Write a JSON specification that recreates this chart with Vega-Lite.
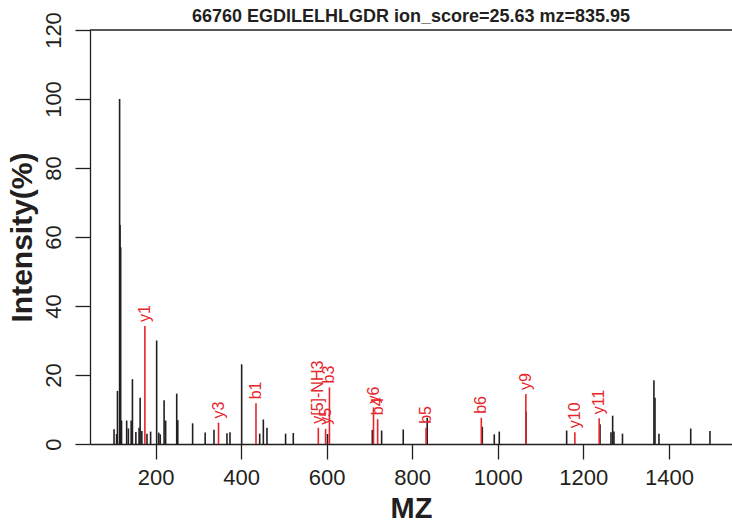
{
  "$schema": "https://vega.github.io/schema/vega-lite/v6.json",
  "autosize": {"type": "none"},
  "padding": {"left": 90, "top": 30, "right": 0, "bottom": 85},
  "width": 642,
  "height": 414,
  "background": "white",
  "title": {"text": "66760 EGDILELHLGDR ion_score=25.63 mz=835.95", "fontSize": 18, "fontWeight": "bold", "font": "Liberation Sans", "color": "#231f20", "offset": 6, "dy": 20, "anchor": "middle"},
  "config": {
    "view": {"stroke": null},
    "axis": {"grid": false, "domainColor": "#231f20", "tickColor": "#231f20", "labelColor": "#231f20", "titleColor": "#231f20", "labelFont": "Liberation Sans", "titleFont": "Liberation Sans", "domainWidth": 1.3, "tickWidth": 1.3}
  },
  "datasets": {
    "peaks": [
      {"mz": 103, "intensity": 4.3, "type": "other", "label": ""},
      {"mz": 109, "intensity": 2.9, "type": "other", "label": ""},
      {"mz": 111, "intensity": 15.4, "type": "other", "label": ""},
      {"mz": 116, "intensity": 100, "type": "other", "label": ""},
      {"mz": 117, "intensity": 63.5, "type": "other", "label": ""},
      {"mz": 118.5, "intensity": 57, "type": "other", "label": ""},
      {"mz": 120.5, "intensity": 6.8, "type": "other", "label": ""},
      {"mz": 132.5, "intensity": 6.8, "type": "other", "label": ""},
      {"mz": 136.5, "intensity": 4.5, "type": "other", "label": ""},
      {"mz": 143, "intensity": 6.8, "type": "other", "label": ""},
      {"mz": 146, "intensity": 18.8, "type": "other", "label": ""},
      {"mz": 154, "intensity": 3.5, "type": "other", "label": ""},
      {"mz": 161.5, "intensity": 4.7, "type": "other", "label": ""},
      {"mz": 164, "intensity": 13.4, "type": "other", "label": ""},
      {"mz": 168, "intensity": 3.8, "type": "other", "label": ""},
      {"mz": 180, "intensity": 3, "type": "other", "label": ""},
      {"mz": 188.5, "intensity": 3.6, "type": "other", "label": ""},
      {"mz": 202.6, "intensity": 30, "type": "other", "label": ""},
      {"mz": 207.5, "intensity": 3.3, "type": "other", "label": ""},
      {"mz": 211, "intensity": 2.8, "type": "other", "label": ""},
      {"mz": 220, "intensity": 12.7, "type": "other", "label": ""},
      {"mz": 223.6, "intensity": 6.8, "type": "other", "label": ""},
      {"mz": 249.5, "intensity": 14.6, "type": "other", "label": ""},
      {"mz": 252, "intensity": 6.9, "type": "other", "label": ""},
      {"mz": 286.7, "intensity": 6, "type": "other", "label": ""},
      {"mz": 316, "intensity": 3.3, "type": "other", "label": ""},
      {"mz": 336.6, "intensity": 4.1, "type": "other", "label": ""},
      {"mz": 367, "intensity": 3.1, "type": "other", "label": ""},
      {"mz": 374, "intensity": 3.4, "type": "other", "label": ""},
      {"mz": 401.3, "intensity": 23.1, "type": "other", "label": ""},
      {"mz": 443.5, "intensity": 3, "type": "other", "label": ""},
      {"mz": 452, "intensity": 7.1, "type": "other", "label": ""},
      {"mz": 460.5, "intensity": 4.7, "type": "other", "label": ""},
      {"mz": 504, "intensity": 3, "type": "other", "label": ""},
      {"mz": 522, "intensity": 3.2, "type": "other", "label": ""},
      {"mz": 602, "intensity": 2.9, "type": "other", "label": ""},
      {"mz": 706.7, "intensity": 4.1, "type": "other", "label": ""},
      {"mz": 728.5, "intensity": 3.9, "type": "other", "label": ""},
      {"mz": 779, "intensity": 4.2, "type": "other", "label": ""},
      {"mz": 835, "intensity": 7.6, "type": "other", "label": ""},
      {"mz": 963.8, "intensity": 5, "type": "other", "label": ""},
      {"mz": 991.8, "intensity": 2.8, "type": "other", "label": ""},
      {"mz": 1003.5, "intensity": 3.6, "type": "other", "label": ""},
      {"mz": 1066, "intensity": 9.4, "type": "other", "label": ""},
      {"mz": 1161, "intensity": 3.9, "type": "other", "label": ""},
      {"mz": 1239, "intensity": 5.7, "type": "other", "label": ""},
      {"mz": 1264.6, "intensity": 3.4, "type": "other", "label": ""},
      {"mz": 1268.5, "intensity": 8.2, "type": "other", "label": ""},
      {"mz": 1271.6, "intensity": 3.6, "type": "other", "label": ""},
      {"mz": 1291.5, "intensity": 3, "type": "other", "label": ""},
      {"mz": 1365, "intensity": 18.5, "type": "other", "label": ""},
      {"mz": 1367.5, "intensity": 13.4, "type": "other", "label": ""},
      {"mz": 1376.8, "intensity": 3, "type": "other", "label": ""},
      {"mz": 1451, "intensity": 4.5, "type": "other", "label": ""},
      {"mz": 1496, "intensity": 3.8, "type": "other", "label": ""},
      {"mz": 175.1, "intensity": 34.2, "type": "matched", "label": "y1"},
      {"mz": 347.2, "intensity": 6.2, "type": "matched", "label": "y3"},
      {"mz": 434.8, "intensity": 11.8, "type": "matched", "label": "b1"},
      {"mz": 580.5, "intensity": 4.7, "type": "matched", "label": "y[5]-NH3"},
      {"mz": 597.5, "intensity": 4.4, "type": "matched", "label": "y5"},
      {"mz": 606.5, "intensity": 16.4, "type": "matched", "label": "b3"},
      {"mz": 709.5, "intensity": 10.6, "type": "matched", "label": "y6"},
      {"mz": 719.2, "intensity": 7.2, "type": "matched", "label": "b4"},
      {"mz": 832.3, "intensity": 4.7, "type": "matched", "label": "b5"},
      {"mz": 961.5, "intensity": 7.6, "type": "matched", "label": "b6"},
      {"mz": 1065.6, "intensity": 14.5, "type": "matched", "label": "y9"},
      {"mz": 1180.2, "intensity": 3.4, "type": "matched", "label": "y10"},
      {"mz": 1237, "intensity": 7.5, "type": "matched", "label": "y11"}
    ],
    "frame": [{"top": 120}]
  },
  "layer": [
    {
      "data": {"name": "peaks"},
      "mark": {"type": "rule", "strokeWidth": 1.6},
      "encoding": {
        "x": {"field": "mz", "type": "quantitative", "scale": {"domain": [46.8, 1547.5], "nice": false, "zero": false},
          "axis": {"title": "MZ", "format": "d", "values": [200, 400, 600, 800, 1000, 1200, 1400], "tickSize": 15, "labelFontSize": 22, "labelPadding": 8, "titleFontSize": 29, "titleFontWeight": "bold", "titlePadding": 6, "labelFlush": false}},
        "y": {"field": "intensity", "type": "quantitative", "scale": {"domain": [0, 120], "nice": false, "zero": true},
          "axis": {"title": "Intensity(%)", "format": "d", "values": [0, 20, 40, 60, 80, 100, 120], "tickSize": 15, "labelFontSize": 22, "labelAngle": 270, "labelAlign": "center", "labelBaseline": "bottom", "labelPadding": 10, "titleFontSize": 30, "titleFontWeight": "bold", "titlePadding": 5, "labelFlush": false}},
        "y2": {"datum": 0},
        "color": {"field": "type", "type": "nominal", "legend": null, "scale": {"domain": ["other", "matched"], "range": ["#231f20", "#e6262b"]}}
      }
    },
    {
      "data": {"name": "peaks"},
      "transform": [{"filter": "datum.label != ''"}],
      "mark": {"type": "text", "angle": 270, "align": "left", "baseline": "middle", "dx": 4, "fontSize": 16, "font": "Liberation Sans", "color": "#e6262b"},
      "encoding": {
        "x": {"field": "mz", "type": "quantitative"},
        "y": {"field": "intensity", "type": "quantitative"},
        "text": {"field": "label", "type": "nominal"}
      }
    },
    {
      "data": {"name": "frame"},
      "mark": {"type": "rule", "strokeWidth": 1.3, "color": "#231f20"},
      "encoding": {
        "y": {"field": "top", "type": "quantitative"}
      }
    }
  ]
}
